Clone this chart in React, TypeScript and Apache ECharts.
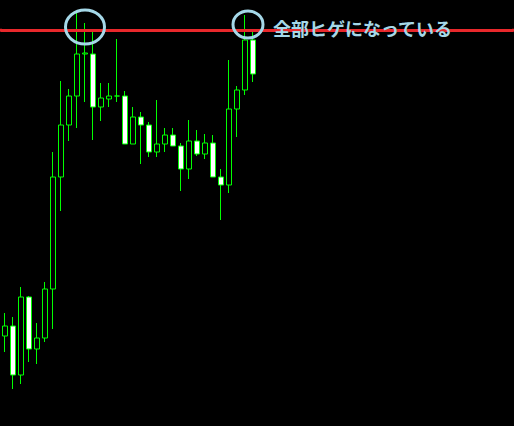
import React, { useEffect, useRef } from 'react'
import * as echarts from 'echarts'

// bar slots across the whole window (only the first ones hold candles)
const SLOT_COUNT = 64
const slots = Array.from({ length: SLOT_COUNT }, (_, i) => String(i + 1))

// OHLC
const opens = [
  108.9, 109.0, 108.51, 109.29, 108.77, 108.88, 109.37, 110.49, 111.01, 111.3, 111.72, 111.72, 111.19, 111.27, 111.3,
  111.3, 110.82, 111.09, 111.01, 110.74, 110.82, 110.91, 110.8, 110.57, 110.85, 110.72, 110.83, 110.49, 110.41, 111.17,
  111.36, 111.86,
]
const closes = [
  109.0, 108.51, 109.29, 108.77, 108.88, 109.37, 110.49, 111.01, 111.3, 111.72, 111.73, 111.19, 111.28, 111.3, 111.3,
  110.82, 111.09, 111.01, 110.74, 110.82, 110.91, 110.8, 110.57, 110.85, 110.72, 110.83, 110.49, 110.41, 111.17, 111.36,
  111.86, 111.52,
]
const lows = [
  108.74, 108.37, 108.42, 108.64, 108.62, 108.84, 108.97, 110.15, 110.85, 110.98, 111.24, 110.86, 111.05, 111.19, 111.24,
  110.82, 110.82, 110.62, 110.69, 110.69, 110.74, 110.8, 110.35, 110.47, 110.7, 110.67, 110.49, 110.06, 110.33, 110.89,
  111.31, 111.44,
]
const highs = [
  109.13, 109.09, 109.39, 109.3, 109.03, 109.44, 110.74, 111.45, 111.37, 112.13, 112.03, 111.94, 111.43, 111.43, 111.87,
  111.35, 111.19, 111.14, 111.04, 111.26, 110.98, 110.98, 110.83, 111.06, 110.96, 110.92, 110.91, 110.57, 111.66, 111.4,
  112.11, 111.94,
]

const resistance = 111.96
const priceMin = 108.0
const priceMax = 112.26

const note = '全部ヒゲになっている'
const noteColor = '#a5d8e8'

const App: React.FC = () => {
  const chartRef = useRef<HTMLDivElement>(null)

  useEffect(() => {
    if (!chartRef.current) return
    const chart = echarts.init(chartRef.current, undefined, { renderer: 'svg' })

    const candles = opens.map((o, i) => [o, closes[i], lows[i], highs[i]])

    const option: echarts.EChartsOption = {
      animation: false,
      backgroundColor: '#000000',
      grid: { left: 1, top: 0, width: 512, height: 426, containLabel: false },
      xAxis: {
        type: 'category',
        data: slots,
        boundaryGap: true,
        show: false,
      },
      yAxis: {
        type: 'value',
        min: priceMin,
        max: priceMax,
        scale: true,
        show: false,
        splitLine: { show: false },
      },
      series: [
        {
          type: 'candlestick',
          data: candles,
          barWidth: 5,
          itemStyle: {
            color: '#000000',
            color0: '#ffffff',
            borderColor: '#00ff00',
            borderColor0: '#00ff00',
            borderColorDoji: '#00ff00',
            borderWidth: 1,
          },
          markLine: {
            silent: true,
            symbol: 'none',
            label: { show: false },
            lineStyle: { color: '#e8282b', width: 3, type: 'solid' },
            data: [{ yAxis: resistance }],
          },
        },
      ],
      graphic: [
        // red line runs to both window edges
        {
          type: 'rect',
          z: 50,
          shape: { x: 0, y: 28.8, width: 2, height: 3 },
          style: { fill: '#e8282b' },
        },
        {
          type: 'rect',
          z: 50,
          shape: { x: 512, y: 28.8, width: 2, height: 3 },
          style: { fill: '#e8282b' },
        },
        {
          type: 'ellipse',
          z: 100,
          shape: { cx: 85, cy: 27, rx: 19.5, ry: 17 },
          style: { fill: 'none', stroke: noteColor, lineWidth: 3 },
        },
        {
          type: 'ellipse',
          z: 100,
          shape: { cx: 248, cy: 24.5, rx: 15, ry: 13.5 },
          style: { fill: 'none', stroke: noteColor, lineWidth: 3 },
        },
        {
          type: 'text',
          z: 100,
          x: 273,
          y: 27.5,
          style: {
            text: note,
            fill: noteColor,
            font: 'bold 18px "Noto Sans CJK JP"',
            verticalAlign: 'middle',
            align: 'left',
          },
        },
      ],
    }

    chart.setOption(option)

    return () => {
      chart.dispose()
    }
  }, [])

  return (
    <div
      ref={chartRef}
      style={{ position: 'fixed', left: 0, top: 0, width: '514px', height: '426px', background: '#000' }}
    />
  )
}

export default App
